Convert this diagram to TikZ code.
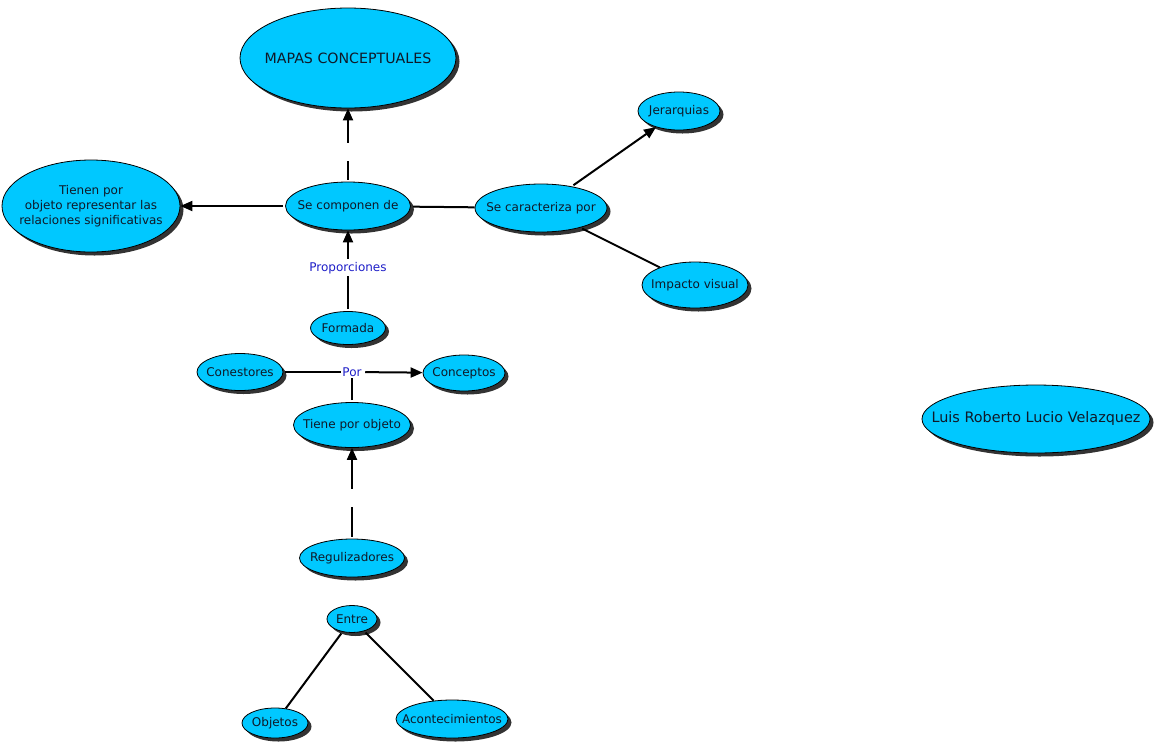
\documentclass[tikz,border=0pt]{standalone}
\usepackage{fontspec}
\setmainfont{DejaVu Sans}
\usepackage{xcolor}
\usetikzlibrary{arrows.meta,shapes.geometric,shadows}
\definecolor{cmfill}{RGB}{0,200,255}
\definecolor{cmlink}{RGB}{30,30,200}
\definecolor{cmtext}{RGB}{15,25,40}

\begin{document}
\begin{tikzpicture}[x=1pt,y=-1pt,
  concept/.style={ellipse,draw=black,line width=0.8pt,fill=cmfill,text=cmtext,
    inner xsep=-30pt,inner ysep=-15pt,align=center,
    drop shadow={shadow xshift=3.5pt,shadow yshift=-3.5pt,fill=black!80,opacity=1},
    font=\fontsize{12}{15}\selectfont},
  link/.style={fill=white,text=cmlink,inner sep=1.5pt,font=\fontsize{12}{15}\selectfont},
  gapmark/.style={fill=white,inner sep=0pt,minimum width=5pt,minimum height=18pt},
  line/.style={line width=2pt,shorten <=2pt},
  arr/.style={line,-{Triangle[length=12pt,width=10pt]}}]
\useasboundingbox (0,0) rectangle (1157,748);
% concepts
\node[concept,minimum width=216pt,minimum height=100pt,font=\fontsize{14.2}{17}\selectfont]
  (mapas) at (348,58) {MAPAS CONCEPTUALES};
\node[concept,minimum width=178pt,minimum height=92pt] (tienen) at (91,206)
  {Tienen por\\objeto representar las\\relaciones significativas};
\node[concept,minimum width=125pt,minimum height=48pt] (secomp) at (348,206) {Se componen de};
\node[concept,minimum width=132pt,minimum height=48pt] (secar) at (541,208) {Se caracteriza por};
\node[concept,minimum width=82pt,minimum height=38pt] (jerar) at (679,111) {Jerarquias};
\node[concept,minimum width=106pt,minimum height=46pt] (impacto) at (695,285) {Impacto visual};
\node[concept,minimum width=75pt,minimum height=33pt] (formada) at (348,328) {Formada};
\node[concept,minimum width=86pt,minimum height=37pt] (conest) at (240,372) {Conestores};
\node[concept,minimum width=82pt,minimum height=36pt] (concep) at (464,373) {Conceptos};
\node[concept,minimum width=117pt,minimum height=45pt] (tiene) at (352,425) {Tiene por objeto};
\node[concept,minimum width=105pt,minimum height=38pt] (regul) at (352,558) {Regulizadores};
\node[concept,minimum width=50pt,minimum height=27pt] (entre) at (352,619) {Entre};
\node[concept,minimum width=66pt,minimum height=30pt] (objetos) at (275,723) {Objetos};
\node[concept,minimum width=112pt,minimum height=38pt] (aconte) at (452,719) {Acontecimientos};
\node[concept,minimum width=228pt,minimum height=68pt,font=\fontsize{14.4}{17}\selectfont]
  (autor) at (1036,419) {Luis Roberto Lucio Velazquez};
% linking phrases
\node[link] (prop) at (348,268) {Proporciones};
\node[link] (por) at (352,372) {Por};
% connectors
\draw[arr] (secomp) -- node[gapmark,pos=0.4]{} (mapas);
\draw[arr] (secomp) -- (tienen);
\draw[line] (secomp) -- (secar);
\draw[arr] (secar) -- (jerar);
\draw[line] (secar) -- (impacto);
\draw[line] (formada) -- (prop);
\draw[arr] (prop) -- (secomp);
\draw[line] (conest) -- (por);
\draw[line] (tiene) -- (por);
\draw[arr] (por) -- (concep);
\draw[arr] (regul) -- node[gapmark,pos=0.45]{} (tiene);
\draw[line] (entre) -- (objetos);
\draw[line] (entre) -- (aconte);
\end{tikzpicture}
\end{document}
